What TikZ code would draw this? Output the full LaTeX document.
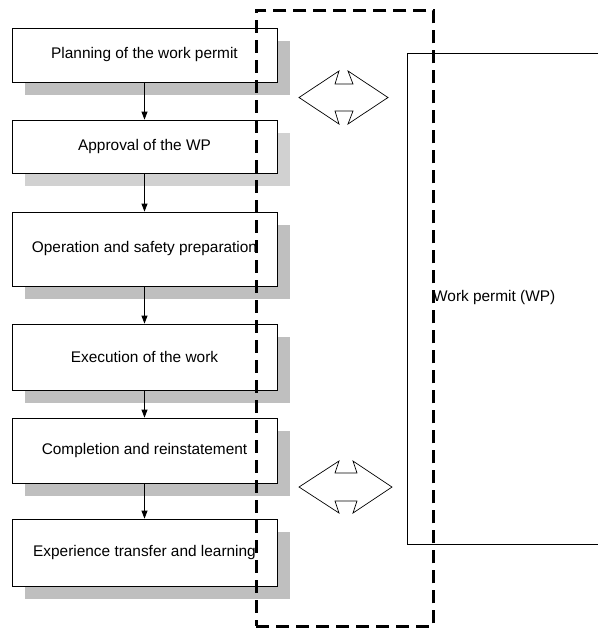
\documentclass[tikz,border=0pt]{standalone}
\usepackage{fontspec}
\setmainfont{Liberation Sans}
\usetikzlibrary{arrows.meta,shadows}
\definecolor{shadeA}{gray}{0.75}
\definecolor{shadeB}{gray}{0.82}
\begin{document}
\begin{tikzpicture}[x=1pt,y=-1pt,
  label font/.style={font=\fontsize{15.4}{18}\selectfont},
  stepbox/.style={draw, line width=0.8pt, fill=white, minimum width=265pt,
    inner sep=0pt, label font,
    general shadow={fill=#1, shadow xshift=13pt, shadow yshift=-13pt}},
  stepbox/.default=shadeA,
  flow/.style={line width=0.8pt, -{Triangle[width=6pt,length=8pt]}},
  exchange/.style={draw, line width=0.7pt, fill=white, line join=miter},
  groupframe/.style={draw, line width=2.8pt, dash pattern=on 13pt off 7pt,
    inner sep=0pt, anchor=north west}]
\useasboundingbox (0,0) rectangle (598,630);

% process steps
\node[stepbox, minimum height=54pt] (b1) at (144.5,55) {Planning of the work permit};
\node[stepbox=shadeB, minimum height=53pt] (b2) at (144.5,146.5) {Approval of the WP};
\node[stepbox, minimum height=74pt] (b3) at (144.5,249) {Operation and safety preparation};
\node[stepbox, minimum height=66pt] (b4) at (144.5,357) {Execution of the work};
\node[stepbox, minimum height=65pt] (b5) at (144.5,450.5) {Completion and reinstatement};
\node[stepbox, minimum height=67pt] (b6) at (144.5,552.5) {Experience transfer and learning};

\draw[flow] (b1.south) -- (b2.north);
\draw[flow] (b2.south) -- (b3.north);
\draw[flow] (b3.south) -- (b4.north);
\draw[flow] (b4.south) -- (b5.north);
\draw[flow] (b5.south) -- (b6.north);

% work permit document
\draw[line width=0.8pt] (598,53) -- (407,53) -- (407,544) -- (598,544);
\node[anchor=west, inner sep=0pt, label font] (wp) at (433,298) {Work permit (WP)};

% two-way exchange arrows
\coordinate (x1) at (343.5,97.5);
\draw[exchange] (x1) ++(-44.5,0) -- ++(40,-26.5) -- ++(-4,13) -- ++(18,0)
  -- ++(-5,-13) -- ++(40,26.5) -- ++(-40,26.5) -- ++(5,-13) -- ++(-18,0)
  -- ++(4,13) -- cycle;
\coordinate (x2) at (345.5,487);
\draw[exchange] (x2) ++(-46.5,0) -- ++(40,-26) -- ++(-4,12) -- ++(22,0)
  -- ++(-4,-12) -- ++(39,26) -- ++(-39,26) -- ++(4,-12) -- ++(-22,0)
  -- ++(4,12) -- cycle;

% dashed grouping frame
\node[groupframe, minimum width=177pt, minimum height=616pt] (group) at (255,9) {};
\end{tikzpicture}
\end{document}
